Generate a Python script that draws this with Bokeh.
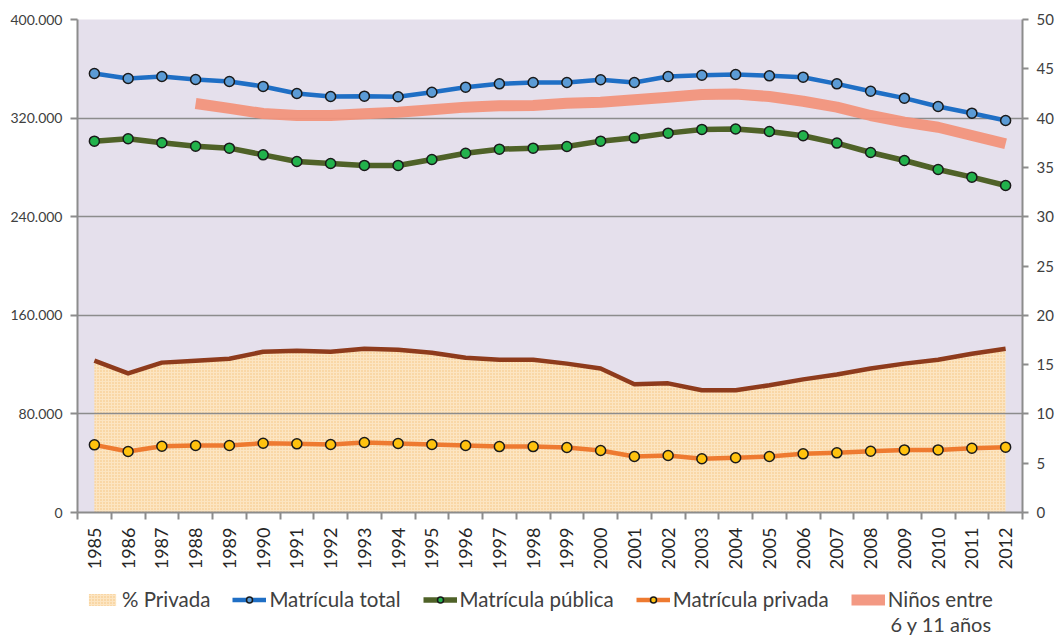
from bokeh.plotting import figure
from bokeh.models import (Range1d, LinearAxis, FixedTicker, Legend, LegendItem, Label)
from bokeh.layouts import column
from bokeh.embed import file_html
from bokeh.resources import INLINE
import math

years = list(range(1985, 2013))

matricula_total = [356200, 352100, 353800, 351300, 349700, 345700, 340000, 337500,
                   337800, 337300, 341000, 345100, 347800, 348900, 348900, 351100,
                   348900, 353800, 354800, 355400, 354300, 353200, 347800, 341800,
                   336200, 329400, 324000, 318100]
matricula_publica = [301300, 303200, 300000, 297200, 295600, 290200, 284800, 283200,
                     281600, 281600, 286400, 291500, 294800, 295600, 297000, 301300,
                     304000, 307800, 310800, 311200, 309100, 305700, 299700, 292100,
                     285600, 278300, 272100, 265300]
matricula_privada = [54900, 49500, 53800, 54400, 54400, 56200, 55700, 55200,
                     56800, 56000, 55200, 54400, 53500, 53500, 52700, 50300,
                     45400, 46200, 43600, 44400, 45400, 47600, 48400, 49700,
                     50800, 50800, 52100, 53000]
pct_privada = [15.4, 14.1, 15.2, 15.4, 15.6, 16.3, 16.4, 16.3,
               16.6, 16.5, 16.2, 15.7, 15.5, 15.5, 15.1, 14.6,
               13.0, 13.1, 12.4, 12.4, 12.9, 13.5, 14.0, 14.6,
               15.1, 15.5, 16.1, 16.6]
ninos_years = list(range(1988, 2013))
ninos_6_11 = [331900, 327900, 323700, 322100, 322100, 323500, 324800, 326800,
              328900, 330000, 330200, 332100, 332900, 334900, 337000, 339200,
              339600, 337500, 333700, 328900, 322100, 316700, 312600, 305900,
              299200]

left_ticks = [0, 80000, 160000, 240000, 320000, 400000]
left_labels = ["0", "80.000", "160.000", "240.000", "320.000", "400.000"]
right_ticks = [0, 5, 10, 15, 20, 25, 30, 35, 40, 45, 50]

legend_labels = ["% Privada", "Matrícula total", "Matrícula pública",
                 "Matrícula privada", "Niños entre"]
legend_second_line = "6 y 11 años"

FONT = "Lato"
TXT = "#404040"
AX = "#8c8c8c"

AREA = dict(fill_color="#FCE5C2", hatch_pattern="dot", hatch_color="#F5C27C",
            hatch_scale=3, hatch_weight=1.2)
NINOS = dict(line_color="#F2937C", line_width=11, line_alpha=0.95, line_cap="butt")
TOT_L = dict(line_color="#1F6FC5", line_width=4.5)
TOT_S = dict(size=10, fill_color="#5B9BD5", line_color="#1a1a1a", line_width=1.5)
PUB_L = dict(line_color="#4F6228", line_width=5.5)
PUB_S = dict(size=10, fill_color="#22B24C", line_color="#1a1a1a", line_width=1.5)
PRI_L = dict(line_color="#EE7A30", line_width=4.5)
PRI_S = dict(size=10, fill_color="#FFC20E", line_color="#1a1a1a", line_width=1.5)


def draw_series(fig):
    """Draw all series on a figure; returns the renderers used for the legend."""
    ra_ = fig.varea(x=years, y1=[0] * len(years), y2=pct_privada, y_range_name="pct",
                    level="underlay", **AREA)
    fig.line(years, pct_privada, y_range_name="pct", line_color="#8E3B1C",
             line_width=4.5, line_join="round")
    rn = fig.line(ninos_years, ninos_6_11, line_join="round", **NINOS)
    tl = fig.line(years, matricula_total, line_join="round", **TOT_L)
    ts = fig.scatter(years, matricula_total, **TOT_S)
    pl = fig.line(years, matricula_publica, line_join="round", **PUB_L)
    ps = fig.scatter(years, matricula_publica, **PUB_S)
    rl = fig.line(years, matricula_privada, line_join="round", **PRI_L)
    rs = fig.scatter(years, matricula_privada, **PRI_S)
    return [[ra_], [tl, ts], [pl, ps], [rl, rs], [rn]]


p = figure(width=1057, height=575, output_backend="svg", toolbar_location=None,
           x_range=Range1d(years[0] - 0.5, years[-1] + 0.5),
           y_range=Range1d(0, 400000),
           min_border_left=77, min_border_top=19, min_border_right=35,
           min_border_bottom=63)
p.background_fill_color = "#E5E0EC"
p.border_fill_color = "white"
p.outline_line_color = None
p.extra_y_ranges = {"pct": Range1d(0, 50)}
draw_series(p)

xa = p.xaxis[0]
xa.ticker = FixedTicker(ticks=years, minor_ticks=[y - 0.5 for y in years] + [years[-1] + 0.5])
xa.major_label_orientation = math.pi / 2
xa.major_tick_out = 0
xa.major_tick_in = 0
xa.minor_tick_out = 7
xa.minor_tick_in = 0
xa.minor_tick_line_color = AX
xa.minor_tick_line_width = 2
xa.axis_line_color = AX
xa.axis_line_width = 2
xa.major_label_text_font = FONT
xa.major_label_text_font_size = "18px"
xa.major_label_text_color = "#262626"
xa.major_label_standoff = 8

ya = p.yaxis[0]
ya.ticker = FixedTicker(ticks=left_ticks, minor_ticks=[])
ya.major_label_overrides = {t: l for t, l in zip(left_ticks, left_labels)}
ya.major_tick_out = 7
ya.major_tick_in = 0
ya.major_tick_line_color = AX
ya.major_tick_line_width = 2
ya.axis_line_color = AX
ya.axis_line_width = 2
ya.major_label_text_font = FONT
ya.major_label_text_font_size = "14px"
ya.major_label_text_color = TXT
ya.major_label_standoff = 8

rax = LinearAxis(y_range_name="pct", ticker=FixedTicker(ticks=right_ticks, minor_ticks=[]))
rax.major_tick_out = 6
rax.major_tick_in = 0
rax.major_tick_line_color = AX
rax.major_tick_line_width = 2
rax.axis_line_color = AX
rax.axis_line_width = 2
rax.major_label_text_font = FONT
rax.major_label_text_font_size = "15px"
rax.major_label_text_color = TXT
rax.major_label_standoff = 8
p.add_layout(rax, "right")

p.xgrid.visible = False
p.ygrid[0].ticker = FixedTicker(ticks=left_ticks, minor_ticks=[])
p.ygrid[0].grid_line_color = AX
p.ygrid[0].grid_line_width = 1.5

# legend strip below the chart (its series lie outside its ranges, only the legend shows)
lg = figure(width=1057, height=61, output_backend="svg", toolbar_location=None,
            x_range=Range1d(0, 1), y_range=Range1d(0, 1),
            x_axis_type=None, y_axis_type=None,
            min_border_left=77, min_border_right=35, min_border_top=0, min_border_bottom=0)
lg.extra_y_ranges = {"pct": Range1d(0, 1)}
lg.grid.visible = False
lg.outline_line_color = None
lg.background_fill_color = "white"
lg.border_fill_color = "white"
groups = draw_series(lg)

legend = Legend(items=[LegendItem(label=lab, renderers=rs)
                       for lab, rs in zip(legend_labels, groups)],
                orientation="horizontal", location=(8, 25))
legend.label_text_font = FONT
legend.label_text_font_size = "20.5px"
legend.label_text_color = TXT
legend.background_fill_alpha = 0
legend.border_line_color = None
legend.glyph_width = 34
legend.glyph_height = 15
legend.padding = 0
legend.margin = 0
legend.spacing = 22
legend.label_standoff = 3
lg.add_layout(legend, "center")

lg.add_layout(Label(x=813, y=13, x_units="screen", y_units="screen", text=legend_second_line,
                    text_font=FONT, text_font_size="20px", text_color=TXT,
                    text_baseline="middle"))

open("out.html", "w").write(file_html(column(p, lg, spacing=0), INLINE))
